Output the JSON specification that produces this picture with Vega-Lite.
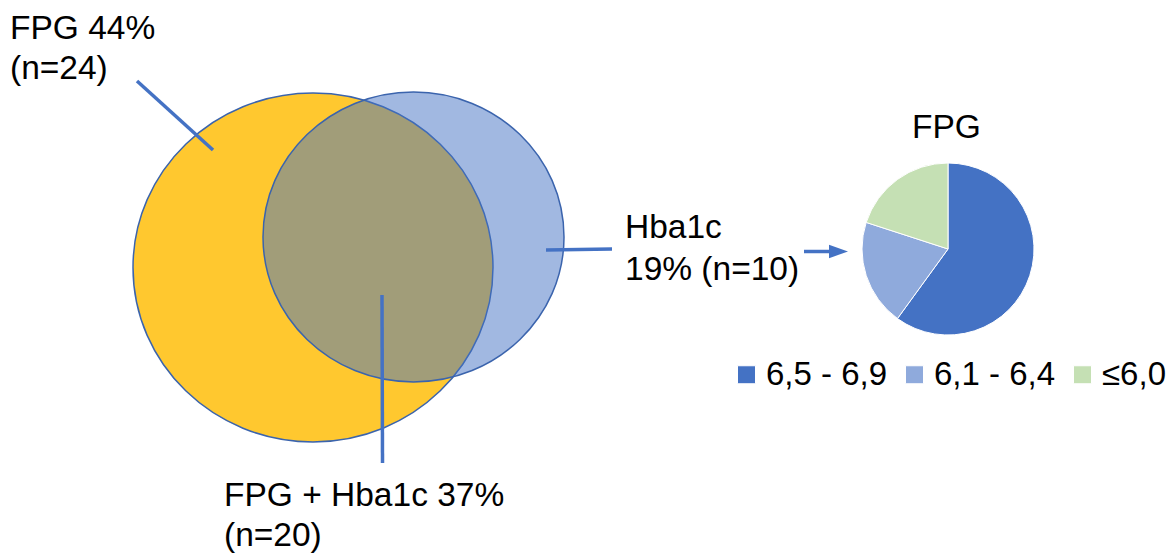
{
  "$schema": "https://vega.github.io/schema/vega-lite/v6.json",
  "width": 1168,
  "height": 553,
  "autosize": {"type": "fit", "contains": "padding"},
  "padding": 0,
  "background": "white",
  "config": {"view": {"stroke": null}, "font": "Liberation Sans"},
  "encoding": {
    "x": {"field": "x", "type": "quantitative", "scale": {"domain": [0, 1168], "nice": false, "zero": false}, "axis": null},
    "y": {"field": "y", "type": "quantitative", "scale": {"domain": [0, 553], "nice": false, "zero": false, "reverse": true}, "axis": null}
  },
  "layer": [
    {
      "data": {"values": [{"set": "FPG", "x": 313, "y": 267.5}]},
      "mark": {"type": "point", "filled": true, "shape": "M-1,0A1,0.969,0,1,1,1,0A1,0.969,0,1,1,-1,0Z", "size": 129600, "fill": "#FFC82F", "fillOpacity": 1, "opacity": 1, "stroke": "#3B64AD", "strokeWidth": 1.5}
    },
    {
      "data": {"values": [{"set": "Hba1c", "x": 413.5, "y": 237}]},
      "mark": {"type": "point", "filled": true, "shape": "M-1,0A1,0.963,0,1,1,1,0A1,0.963,0,1,1,-1,0Z", "size": 90601, "fill": "#4472C4", "fillOpacity": 0.5, "opacity": 1, "stroke": "#3B64AD", "strokeOpacity": 1, "strokeWidth": 1.5}
    },
    {
      "data": {"values": [
        {"x": 137, "y": 81, "x2": 213, "y2": 150},
        {"x": 546, "y": 250, "x2": 612, "y2": 249},
        {"x": 382, "y": 295, "x2": 382.5, "y2": 463},
        {"x": 804, "y": 251.5, "x2": 832, "y2": 251.5}
      ]},
      "mark": {"type": "rule", "color": "#4472C4", "strokeWidth": 3.5},
      "encoding": {
        "x2": {"field": "x2"},
        "y2": {"field": "y2"}
      }
    },
    {
      "data": {"values": [{"x": 838.5, "y": 251.5}]},
      "mark": {"type": "point", "filled": true, "shape": "M-1,-0.7L1,0L-1,0.7Z", "size": 361, "color": "#4472C4", "opacity": 1}
    },
    {
      "data": {"values": [
        {"range": "6,5 - 6,9", "n": 60, "start": 0, "end": 60, "x": 948, "y": 249},
        {"range": "6,1 - 6,4", "n": 20, "start": 60, "end": 80, "x": 948, "y": 249},
        {"range": "≤6,0", "n": 20, "start": 80, "end": 100, "x": 948, "y": 249}
      ]},
      "mark": {"type": "arc", "radius": 86, "stroke": "#ffffff", "strokeWidth": 1},
      "encoding": {
        "x": {"field": "x", "type": "quantitative", "stack": null},
        "y": {"field": "y", "type": "quantitative", "stack": null},
        "theta": {"field": "start", "type": "quantitative", "stack": null, "scale": {"domain": [0, 100]}},
        "theta2": {"field": "end"},
        "color": {
          "field": "range",
          "type": "nominal",
          "scale": {"domain": ["6,5 - 6,9", "6,1 - 6,4", "≤6,0"], "range": ["#4472C4", "#8FAADC", "#C5E0B4"]},
          "legend": {
            "orient": "none",
            "legendX": 730,
            "legendY": 358,
            "direction": "horizontal",
            "title": null,
            "symbolType": "square",
            "symbolSize": 324,
            "symbolStrokeWidth": 1,
            "labelFontSize": 33,
            "labelFont": "Liberation Sans",
            "labelColor": "#000000",
            "labelOffset": 3,
            "columnPadding": 10,
            "padding": 0
          }
        }
      }
    },
    {
      "data": {"values": [
        {"x": 10, "y": 39, "label": "FPG 44%"},
        {"x": 10, "y": 79, "label": "(n=24)"},
        {"x": 625, "y": 238, "label": "Hba1c"},
        {"x": 625, "y": 280, "label": "19% (n=10)"},
        {"x": 224, "y": 506, "label": "FPG + Hba1c 37%"},
        {"x": 224, "y": 546, "label": "(n=20)"},
        {"x": 912, "y": 138, "label": "FPG"}
      ]},
      "mark": {"type": "text", "align": "left", "baseline": "alphabetic", "fontSize": 33.5, "font": "Liberation Sans", "color": "#000000"},
      "encoding": {"text": {"field": "label"}}
    }
  ]
}
